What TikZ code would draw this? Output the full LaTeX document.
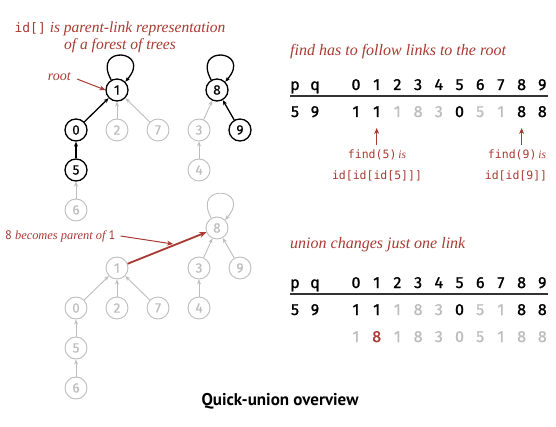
\documentclass[tikz,border=0pt]{standalone}
\usepackage{fontspec}
\setmainfont{Liberation Serif}
\newfontfamily\sansf{PT Sans}
\newfontfamily\digf[FakeBold=1.2]{Fira Sans}
\newfontfamily\ndigf[FakeBold=0.6]{Fira Sans}
\newfontfamily\monof{DejaVu Sans Mono}
\usetikzlibrary{arrows.meta}
\definecolor{qred}{HTML}{A83A32}
\definecolor{qgray}{HTML}{BDBDBD}
\begin{document}
\begin{tikzpicture}[x=1pt,y=-1pt,
  nblk/.style={circle, draw=black, line width=1.3pt, minimum size=22pt, inner sep=0pt, font=\ndigf\fontsize{13.5}{14}\selectfont},
  ngry/.style={nblk, draw=qgray, line width=0.9pt, text=qgray},
  lnk/.style={-{Stealth[length=5pt,width=4pt]}, line width=1.3pt},
  glnk/.style={lnk, draw=qgray, line width=0.9pt},
  rlnk/.style={-{Stealth[length=6pt,width=5pt]}, draw=qred, line width=1pt},
  note/.style={text=qred, font=\itshape\fontsize{13}{15}\selectfont, inner sep=0pt},
  code/.style={text=qred, font=\monof\fontsize{11.5}{14}\selectfont, inner sep=0pt},
  dig/.style={font=\digf\fontsize{16}{16}\selectfont, inner sep=0pt, anchor=base},
]
\useasboundingbox (0,0) rectangle (556,427);
% ---------- top forest ----------
\node[note, align=center, font=\itshape\fontsize{15.5}{17}\selectfont] (t1) at (120,37) {{\monof\upshape\fontsize{13}{14}\selectfont id[]} is parent-link representation\\of a forest of trees};
\node[nblk] (a1) at (117,90) {1};
\node[nblk] (a8) at (217,90) {8};
\node[nblk] (a0) at (76,130) {0};
\node[ngry] (a2) at (117,130) {2};
\node[ngry] (a7) at (158,130) {7};
\node[ngry] (a3) at (199,130) {3};
\node[nblk] (a9) at (240,130) {9};
\node[nblk] (a5) at (76,170) {5};
\node[ngry] (a4) at (199,170) {4};
\node[ngry] (a6) at (76,210) {6};
\draw[lnk] (a0) -- (a1);
\draw[lnk] (a5) -- (a0);
\draw[lnk] (a9) -- (a8);
\draw[glnk] (a2) -- (a1);
\draw[glnk] (a7) -- (a1);
\draw[glnk] (a3) -- (a8);
\draw[glnk] (a4) -- (a3);
\draw[glnk] (a6) -- (a5);
\draw[lnk] (a1.120) .. controls +(-20,-36) and +(28,-32) .. (a1.45);
\draw[lnk] (a8.120) .. controls +(-20,-36) and +(28,-32) .. (a8.45);
\node[note, anchor=east, font=\itshape\fontsize{14}{15}\selectfont] (rt) at (71,77) {root};
\draw[rlnk] (rt.east) ++(6,2) coordinate (rs) -- (a1.west);
% ---------- bottom forest ----------
\node[ngry] (b8) at (217,228) {8};
\node[ngry] (b1) at (117,268) {1};
\node[ngry] (b3) at (199,268) {3};
\node[ngry] (b9) at (240,268) {9};
\node[ngry] (b0) at (76,308) {0};
\node[ngry] (b2) at (117,308) {2};
\node[ngry] (b7) at (158,308) {7};
\node[ngry] (b4) at (199,308) {4};
\node[ngry] (b5) at (76,348) {5};
\node[ngry] (b6) at (76,388) {6};
\draw[glnk] (b0) -- (b1);
\draw[glnk] (b2) -- (b1);
\draw[glnk] (b7) -- (b1);
\draw[glnk] (b5) -- (b0);
\draw[glnk] (b6) -- (b5);
\draw[glnk] (b3) -- (b8);
\draw[glnk] (b9) -- (b8);
\draw[glnk] (b4) -- (b3);
\draw[glnk] (b8.120) .. controls +(-20,-36) and +(28,-32) .. (b8.45);
\draw[-{Stealth[length=7pt,width=6pt]}, draw=qred, line width=1.8pt] (b1) -- (b8);
\node[note, anchor=west, font=\itshape\fontsize{12.4}{15}\selectfont] (bp) at (5,236) {{\sansf\upshape 8} becomes parent of {\sansf\upshape 1}};
\coordinate (bpa) at (173,244);
\draw[rlnk] (bp.east) ++(5,0) coordinate (bps) -- (bpa);
% ---------- find table ----------
\node[note, anchor=west, font=\itshape\fontsize{16}{17}\selectfont] (ft) at (290,52) {find has to follow links to the root};
\node[dig] (fp) at (295,90) {p};
\node[dig] (fq) at (315,90) {q};
\foreach \i in {0,...,9} {
  \node[dig] (fh\i) at (356+20.7*\i,90) {\i};
}
\draw[line width=1.3pt, draw=black!80] (290,96) coordinate (fl1) -- (548,96) coordinate (fl2);
\node[dig] (fr5) at (295,117) {5};
\node[dig] (fr9) at (315,117) {9};
\foreach \v/\c [count=\i from 0] in {1/black,1/black,1/qgray,8/qgray,3/qgray,0/black,5/qgray,1/qgray,8/black,8/black} {
  \node[dig, text=\c] (fv\i) at (356+20.7*\i,117) {\v};
}
\draw[rlnk, line width=0.9pt] (376.7,145) coordinate (fa1s) -- (376.7,128) coordinate (fa1e);
\draw[rlnk, line width=0.9pt] (521.6,145) coordinate (fa8s) -- (521.6,128) coordinate (fa8e);
\node[code] (c1) at (377,155) {find(5)\,{\rmfamily\itshape is}};
\node[code] (c2) at (377,176) {id[id[id[5]]]};
\node[code] (c3) at (517,155) {find(9)\,{\rmfamily\itshape is}};
\node[code] (c4) at (516,176) {id[id[9]]};
% ---------- union table ----------
\node[note, anchor=west, font=\itshape\fontsize{16}{17}\selectfont] (ut) at (290,245) {union changes just one link};
\node[dig] (up) at (295,288) {p};
\node[dig] (uq) at (315,288) {q};
\foreach \i in {0,...,9} {
  \node[dig] (uh\i) at (356+20.7*\i,288) {\i};
}
\draw[line width=1.3pt, draw=black!80] (290,294) coordinate (ul1) -- (548,294) coordinate (ul2);
\node[dig] (ur5) at (295,315) {5};
\node[dig] (ur9) at (315,315) {9};
\foreach \v/\c [count=\i from 0] in {1/black,1/black,1/qgray,8/qgray,3/qgray,0/black,5/qgray,1/qgray,8/black,8/black} {
  \node[dig, text=\c] (uv\i) at (356+20.7*\i,315) {\v};
}
\foreach \v/\c [count=\i from 0] in {1/qgray,8/qred,1/qgray,8/qgray,3/qgray,0/qgray,5/qgray,1/qgray,8/qgray,8/qgray} {
  \node[dig, text=\c] (uw\i) at (356+20.7*\i,342) {\v};
}
% ---------- caption ----------
\node[font=\sansf\bfseries\fontsize{17}{17}\selectfont, anchor=base] (cap) at (280,405) {Quick-union overview};
\end{tikzpicture}
\end{document}
